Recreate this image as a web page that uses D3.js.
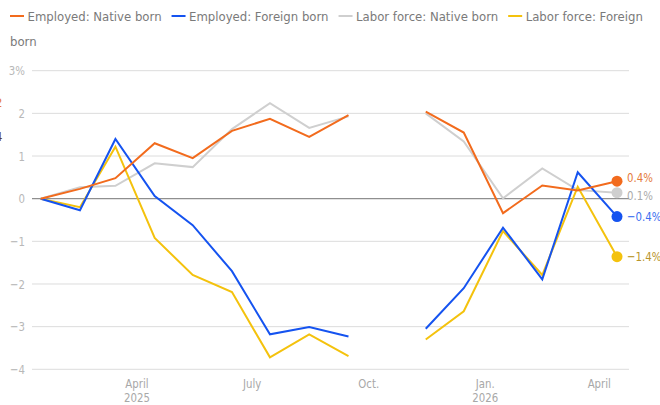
<!DOCTYPE html>
<html>
<head>
<meta charset="utf-8">
<script src="https://cdn.jsdelivr.net/npm/d3@7"></script>
<style>
  body { margin: 0; background: #fff; }
  svg { display: block; font-family: "DejaVu Sans Condensed", "Liberation Sans", sans-serif; }
</style>
</head>
<body>
<svg id="chart" width="660" height="405"></svg>
<script>
// monthly % change since January 2025 (Oct. 2025 missing)
const months = ["2025-01","2025-02","2025-03","2025-04","2025-05","2025-06","2025-07","2025-08",
                "2025-09","2025-10","2025-11","2025-12","2026-01","2026-02","2026-03","2026-04"];
const employedNative  = [0, 0.23, 0.48, 1.30, 0.95, 1.59, 1.87, 1.45, 1.96, null, 2.04, 1.55, -0.34, 0.31, 0.19, 0.41];
const employedForeign = [0, -0.27, 1.40, 0.06, -0.62, -1.70, -3.18, -3.01, -3.23, null, -3.05, -2.10, -0.68, -1.89, 0.62, -0.42];
const laborNative     = [0, 0.27, 0.30, 0.83, 0.74, 1.63, 2.24, 1.66, 1.93, null, 2.00, 1.34, 0.01, 0.71, 0.20, 0.14];
const laborForeign    = [0, -0.20, 1.22, -0.92, -1.79, -2.19, -3.72, -3.18, -3.69, null, -3.30, -2.64, -0.76, -1.79, 0.28, -1.36];
const seriesNames = ["Employed: Native born", "Employed: Foreign born", "Labor force: Native born", "Labor force: Foreign born"];
const yTicks = [-4, -3, -2, -1, 0, 1, 2, 3];
const xTicks = [["April", "2025"], ["July"], ["Oct."], ["Jan.", "2026"], ["April"]];
const xTickDates = ["2025-04-01", "2025-07-01", "2025-10-01", "2026-01-01", "2026-04-01"];

const colors = ["#f26b1d", "#1553f0", "#cfcfcf", "#f4c20d"];
const labelColors = ["#e57a3c", "#3b6ef0", "#aaaaaa", "#b8942a"];

const svg = d3.select("#chart");
const parse = d3.timeParse("%Y-%m-%d");
const dates = months.map(m => parse(m + "-15"));

// squeeze text to look like the narrow font of the original
function narrow(sel, k) {
    k = k || 0.87;
    sel.each(function () {
        const w = this.getComputedTextLength();
        if (w > 0) d3.select(this).attr("textLength", w * k).attr("lengthAdjust", "spacingAndGlyphs");
    });
    return sel;
}

const x = d3.scaleTime()
    .domain([dates[0], dates[dates.length - 1]])
    .range([40.7, 617]);
const y = d3.scaleLinear().domain([-4, 3]).range([369.3, 70.7]);

// grid
svg.append("g").selectAll("line")
    .data(yTicks)
    .join("line")
    .attr("x1", 32).attr("x2", 629)
    .attr("y1", d => y(d)).attr("y2", d => y(d))
    .attr("stroke", d => d === 0 ? "#8f8f8f" : "#dcdcdc")
    .attr("stroke-width", d => d === 0 ? 1.2 : 1);

narrow(svg.append("g").selectAll("text")
    .data(yTicks)
    .join("text")
    .attr("x", 25)
    .attr("y", d => y(d))
    .attr("dy", "0.35em")
    .attr("text-anchor", "end")
    .attr("fill", "#b8b8b8")
    .attr("font-size", 13)
    .text(d => d === 3 ? "3%" : d < 0 ? "\u2212" + Math.abs(d) : d));

// x tick labels
xTicks.forEach(function (lines, i) {
    lines.forEach(function (s, j) {
        narrow(svg.append("text")
            .attr("x", x(parse(xTickDates[i])))
            .attr("y", 387.5 + j * 14.2)
            .attr("text-anchor", "middle")
            .attr("fill", "#a8a8a8")
            .attr("font-size", 13)
            .text(s));
    });
});

// lines
const allSeries = [employedNative, employedForeign, laborNative, laborForeign];
const line = d3.line()
    .defined(d => d.v !== null)
    .x(d => x(d.date))
    .y(d => y(d.v));

const drawOrder = [2, 3, 1, 0];
drawOrder.forEach(function (s) {
    const pts = allSeries[s].map((v, i) => ({ date: dates[i], v: v }));
    svg.append("path")
        .datum(pts)
        .attr("fill", "none")
        .attr("stroke", colors[s])
        .attr("stroke-width", 2)
        .attr("stroke-linejoin", "miter")
        .attr("d", line);
});

// end dots + labels
const last = dates.length - 1;
const ends = allSeries.map((arr, s) => ({ s: s, v: arr[last], cy: y(arr[last]) }));
ends.sort((a, b) => a.cy - b.cy);
ends.forEach(d => d.ly = d.cy);
for (let k = 0; k < 20; k++) {
    for (let i = 1; i < ends.length; i++) {
        const gap = ends[i].ly - ends[i - 1].ly;
        if (gap < 18) {
            const push = (18 - gap) / 2;
            ends[i].ly += push;
            ends[i - 1].ly -= push;
        }
    }
}
ends.forEach(function (d) {
    svg.append("circle")
        .attr("cx", x(dates[last]))
        .attr("cy", d.cy)
        .attr("r", 5.5)
        .attr("fill", colors[d.s]);
    const t = d3.format(".1f")(Math.abs(d.v));
    narrow(svg.append("text")
        .attr("x", 627)
        .attr("y", d.ly)
        .attr("dy", "0.35em")
        .attr("fill", labelColors[d.s])
        .attr("font-size", 13)
        .text((d.v < 0 ? "\u2212" : "") + t + "%"));
});

// legend, flowed and wrapped like html
const LEG_K = 0.9;
const lg = svg.append("g").style("font-family", "'DejaVu Sans', sans-serif");
let lx = 10, ly = 21;
const maxX = 656;
function legText(str) {
    const t = lg.append("text")
        .attr("x", lx).attr("y", ly)
        .attr("fill", "#7a7a7a")
        .attr("font-size", 13)
        .text(str);
    return t;
}
allSeries.forEach(function (arr, s) {
    lg.append("line")
        .attr("x1", lx).attr("x2", lx + 14)
        .attr("y1", ly - 5).attr("y2", ly - 5)
        .attr("stroke", colors[s]).attr("stroke-width", 2);
    lx += 17.5;
    const words = seriesNames[s].split(" ");
    const t = legText(seriesNames[s]);
    if (lx + t.node().getComputedTextLength() * LEG_K > maxX) {
        // find how many words fit on this line
        let n = words.length;
        while (n > 1) {
            n--;
            t.text(words.slice(0, n).join(" "));
            if (lx + t.node().getComputedTextLength() * LEG_K <= maxX) break;
        }
        narrow(t, LEG_K);
        lx = 10; ly += 25;
        const t2 = legText(words.slice(n).join(" "));
        narrow(t2, LEG_K);
        lx += t2.node().getComputedTextLength() * LEG_K;
    } else {
        narrow(t, LEG_K);
        lx += +t.attr("textLength");
    }
    lx += 10;
});

// clipped fragments at the left edge
svg.append("text").attr("x", -5).attr("y", 107).attr("font-size", 13)
    .attr("fill", "#e57a3c").text("2");
svg.append("text").attr("x", -5).attr("y", 141).attr("font-size", 13)
    .attr("fill", "#5b3b2b").text("4");
</script>
</body>
</html>
